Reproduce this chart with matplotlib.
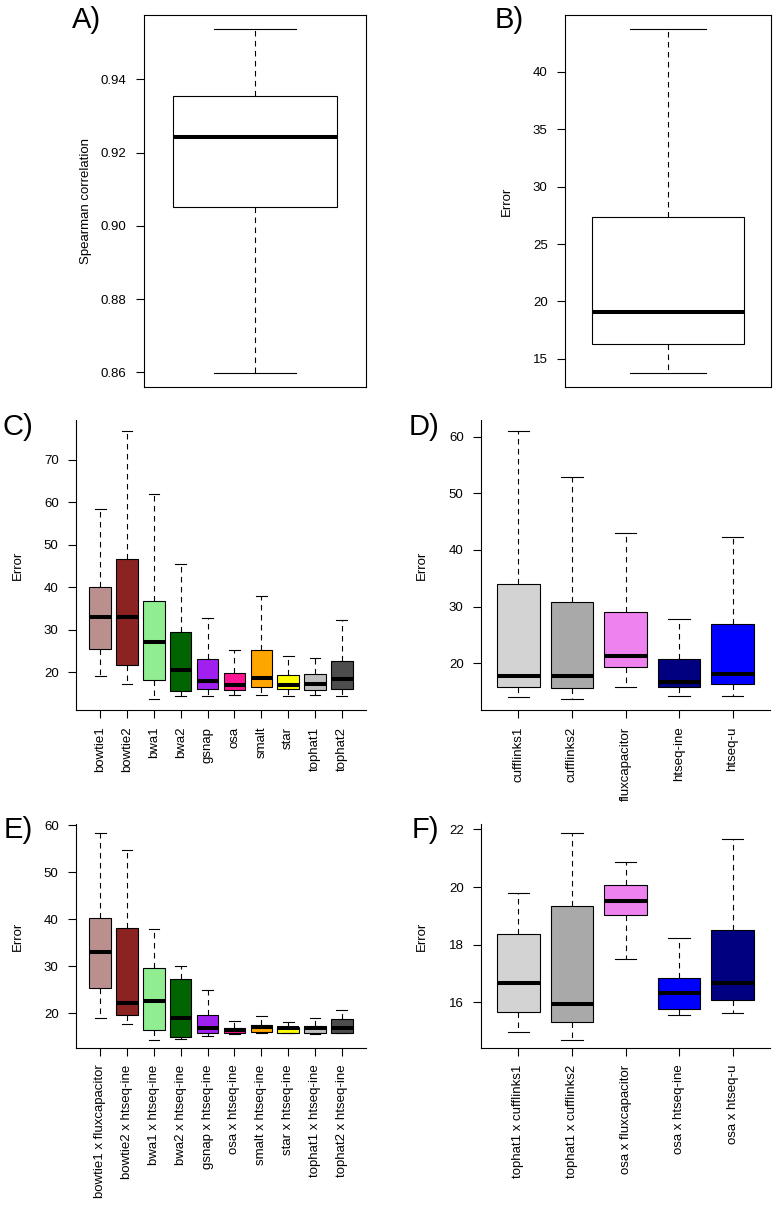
import matplotlib.pyplot as plt

plt.rcParams['font.family'] = ['Liberation Sans', 'DejaVu Sans']
plt.rcParams['font.size'] = 9.5

# A) Spearman correlation
a_lo, a_q1, a_med, a_q3, a_hi = [0.8599], [0.9052], [0.9242], [0.9356], [0.9537]

# B) overall error
b_lo, b_q1, b_med, b_q3, b_hi = [13.75], [16.3], [19.04], [27.33], [43.75]

# C) aligners
c_names = ['bowtie1', 'bowtie2', 'bwa1', 'bwa2', 'gsnap', 'osa', 'smalt', 'star', 'tophat1', 'tophat2']
c_lo = [19.0, 17.2, 13.7, 14.3, 14.3, 14.7, 14.6, 14.5, 14.7, 14.3]
c_q1 = [25.4, 21.8, 18.1, 15.5, 16.0, 15.8, 16.5, 16.1, 15.9, 16.15]
c_med = [33.0, 33.0, 27.2, 20.5, 18.0, 17.0, 18.6, 17.0, 17.25, 18.35]
c_q3 = [40.1, 46.5, 36.8, 29.4, 23.1, 19.8, 25.2, 19.3, 19.6, 22.6]
c_hi = [58.3, 76.8, 61.8, 45.5, 32.8, 25.2, 37.9, 23.8, 23.4, 32.3]
c_colors = ['#BC8F8F', '#8B2323', '#90EE90', '#006400', '#A020F0',
            '#FF1493', '#FFA500', '#FFFF00', '#BEBEBE', '#4D4D4D']

# D) quantifiers
d_names = ['cufflinks1', 'cufflinks2', 'fluxcapacitor', 'htseq-ine', 'htseq-u']
d_lo = [14.1, 13.7, 15.9, 14.3, 14.3]
d_q1 = [15.9, 15.6, 19.35, 15.9, 16.35]
d_med = [17.8, 17.8, 21.3, 16.65, 18.05]
d_q3 = [34.0, 30.9, 29.1, 20.8, 26.9]
d_hi = [61.05, 52.8, 43.05, 27.9, 42.3]
d_colors = ['#D3D3D3', '#A9A9A9', '#EE82EE', '#000080', '#0000FF']

# E) aligner x quantifier (aligner view)
e_names = ['bowtie1 x fluxcapacitor', 'bowtie2 x htseq-ine', 'bwa1 x htseq-ine', 'bwa2 x htseq-ine',
           'gsnap x htseq-ine', 'osa x htseq-ine', 'smalt x htseq-ine', 'star x htseq-ine',
           'tophat1 x htseq-ine', 'tophat2 x htseq-ine']
e_lo = [18.85, 17.6, 14.25, 14.45, 15.1, 15.6, 15.7, 15.7, 15.6, 15.7]
e_q1 = [25.3, 19.57, 16.4, 14.8, 15.8, 15.65, 15.95, 15.8, 15.8, 15.8]
e_med = [33.0, 22.05, 22.55, 19.0, 16.7, 16.3, 17.0, 16.8, 16.8, 16.7]
e_q3 = [40.25, 38.1, 29.6, 27.2, 19.5, 16.87, 17.5, 17.1, 17.3, 18.65]
e_hi = [58.4, 54.7, 37.9, 30.0, 24.9, 18.3, 19.3, 18.15, 18.85, 20.7]
e_colors = c_colors

# F) aligner x quantifier (quantifier view)
f_names = ['tophat1 x cufflinks1', 'tophat1 x cufflinks2', 'osa x fluxcapacitor',
           'osa x htseq-ine', 'osa x htseq-u']
f_lo = [14.98, 14.71, 17.49, 15.56, 15.62]
f_q1 = [15.68, 15.32, 19.04, 15.76, 16.07]
f_med = [16.68, 15.94, 19.52, 16.33, 16.67]
f_q3 = [18.38, 19.33, 20.09, 16.86, 18.51]
f_hi = [19.78, 21.89, 20.88, 18.23, 21.67]
f_colors = ['#D3D3D3', '#A9A9A9', '#EE82EE', '#0000FF', '#000080']

W, H = 775, 1206
fig = plt.figure(figsize=(W / 100, H / 100), dpi=100)


def add_axes(x0, y0, x1, y1):
    ax = fig.add_axes([x0 / W, 1 - y1 / H, (x1 - x0) / W, (y1 - y0) / H])
    ax.px = (x0, x1)
    return ax


def ylabel_at(ax, text, right_px):
    # right_px: right edge of the rotated label, figure pixels
    x0, x1 = ax.px
    ax.set_ylabel(text)
    ax.yaxis.set_label_coords((right_px - x0) / (x1 - x0), 0.5)


def draw(ax, lo, q1, med, q3, hi, colors):
    stats = [dict(whislo=a, q1=b, med=c, q3=d, whishi=e)
             for a, b, c, d, e in zip(lo, q1, med, q3, hi)]
    n = len(stats)
    bp = ax.bxp(stats, positions=range(1, n + 1), widths=0.8, capwidths=0.4,
                showfliers=False, patch_artist=True, manage_ticks=False,
                boxprops=dict(edgecolor='black', linewidth=0.8),
                medianprops=dict(color='black', linewidth=2.9, solid_capstyle='butt'),
                whiskerprops=dict(color='black', linewidth=0.8, linestyle=(0, (5, 4))),
                capprops=dict(color='black', linewidth=0.8))
    for patch, col in zip(bp['boxes'], colors):
        patch.set_facecolor(col)
    pad = 0.04 * n
    ax.set_xlim(0.5 - pad, n + 0.5 + pad)
    for s in ax.spines.values():
        s.set_linewidth(0.8)
    ax.tick_params(axis='y', direction='out', length=5.5, width=0.8, pad=7)
    ax.tick_params(axis='x', direction='out', length=5.5, width=0.8, pad=6.5)


def l_frame(ax, names):
    ax.spines['top'].set_visible(False)
    ax.spines['right'].set_visible(False)
    ax.set_xticks(range(1, len(names) + 1))
    ax.set_xticklabels(names, rotation=90, va='top', ha='center')


# A
ax = add_axes(144, 15, 366, 387)
draw(ax, a_lo, a_q1, a_med, a_q3, a_hi, ['white'])
ax.set_ylim(0.856, 0.9576)
ax.set_yticks([0.86, 0.88, 0.90, 0.92, 0.94])
ax.set_yticklabels(['0.86', '0.88', '0.90', '0.92', '0.94'])
ax.set_xticks([])
ylabel_at(ax, 'Spearman correlation', 92.5)

# B
ax = add_axes(565, 15, 771, 387)
draw(ax, b_lo, b_q1, b_med, b_q3, b_hi, ['white'])
ax.set_ylim(12.53, 44.97)
ax.set_yticks([15, 20, 25, 30, 35, 40])
ax.set_xticks([])
ylabel_at(ax, 'Error', 513)

# C
ax = add_axes(76, 420, 366, 710)
draw(ax, c_lo, c_q1, c_med, c_q3, c_hi, c_colors)
ax.set_ylim(11.1, 79.3)
ax.set_yticks([20, 30, 40, 50, 60, 70])
l_frame(ax, c_names)
ylabel_at(ax, 'Error', 24)

# D
ax = add_axes(481, 420, 770, 710)
draw(ax, d_lo, d_q1, d_med, d_q3, d_hi, d_colors)
ax.set_ylim(11.76, 62.93)
ax.set_yticks([20, 30, 40, 50, 60])
l_frame(ax, d_names)
ylabel_at(ax, 'Error', 428)

# E
ax = add_axes(76, 824, 366, 1048)
draw(ax, e_lo, e_q1, e_med, e_q3, e_hi, e_colors)
ax.set_ylim(12.54, 60.3)
ax.set_yticks([20, 30, 40, 50, 60])
l_frame(ax, e_names)
ylabel_at(ax, 'Error', 24)

# F
ax = add_axes(481, 824, 770, 1048)
draw(ax, f_lo, f_q1, f_med, f_q3, f_hi, f_colors)
ax.set_ylim(14.42, 22.19)
ax.set_yticks([16, 18, 20, 22])
l_frame(ax, f_names)
ylabel_at(ax, 'Error', 428)

# panel letters
for lab, x, y in [('A)', 72, 28), ('B)', 495, 28), ('C)', 2, 435),
                  ('D)', 409, 435), ('E)', 4, 838), ('F)', 412, 838)]:
    fig.text(x / W, 1 - y / H, lab, fontsize=21, va='baseline', ha='left')

fig.savefig('out.png', dpi=100, facecolor='white')
